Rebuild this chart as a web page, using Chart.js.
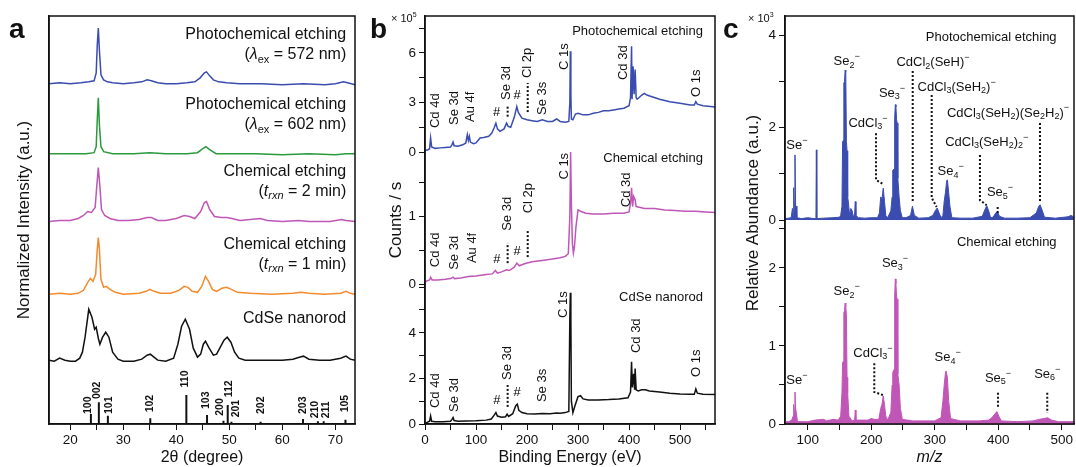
<!DOCTYPE html>
<html>
<head>
<meta charset="utf-8">
<script src="https://cdn.jsdelivr.net/npm/chart.js@4.4.1/dist/chart.umd.min.js"></script>
<style>
  html, body { margin: 0; padding: 0; background: #fff; }
  #wrap { position: relative; width: 1076px; height: 467px; overflow: hidden; }
  canvas { position: absolute; top: 0; }
</style>
</head>
<body>
<div id="wrap">
  <canvas id="chartA" width="362" height="467" style="left:0"></canvas>
  <canvas id="chartB" width="360" height="467" style="left:362px"></canvas>
  <canvas id="chartC" width="354" height="467" style="left:722px"></canvas>
</div>
<script>
var FONT = 'Arial, "Liberation Sans", Helvetica, sans-serif';
Chart.defaults.font.family = FONT;
Chart.defaults.color = '#111';

// ---------- panel a : XRD (2theta, intensity above own baseline) ----------
var xrdNames = ['Photochemical etching', 'Photochemical etching', 'Chemical etching', 'Chemical etching', 'CdSe nanorod'];
var xrdSubs = ['(%{λ}_{ex} = 572 nm)', '(%{λ}_{ex} = 602 nm)', '(%{t}${rxn} = 2 min)', '(%{t}${rxn} = 1 min)', ''];
var xrdOffsets = [340, 270, 203, 130, 62];
var xrdPhoto572 = [[16,1],[18,2],[20,1],[22,2],[23.5,3],[24.5,4],[24.9,12],[25.1,40],[25.3,57],[25.5,35],[25.8,10],[26.3,5],[27,3],[28,2],[30,1],[32,2],[33.5,3],[34.5,5],[35.3,4],[36.5,2],[38,1],[40,1],[42,2],[43.5,3],[44.5,7],[45.3,12],[45.7,13],[46.3,9],[47,5],[48,3],[49.5,2],[52,1],[56,1],[60,0],[64,1],[68,0],[70,1],[71.5,3],[72.3,2],[73.7,0]];
var xrdPhoto602 = [[16,1],[20,1],[23,1],[24.5,2],[24.9,8],[25.1,35],[25.3,57],[25.5,30],[25.8,8],[26.3,3],[28,1],[32,1],[35,2],[38,1],[42,1],[44,2],[45,6],[45.6,8],[46.3,5],[47.5,1],[50,1],[55,1],[60,0],[65,1],[70,0],[72,1],[73.7,1]];
var xrdChem2 = [[16,0],[18,1],[20,1],[21.5,3],[22.5,6],[23.3,10],[24,9],[24.7,14],[25,35],[25.3,54],[25.6,35],[25.9,12],[26.5,6],[27.5,3],[29,1],[31,1],[33,2],[34.5,4],[35.3,4],[36.5,1],[38,1],[40,3],[41.5,6],[42.5,5],[43.5,3],[44.6,10],[45.3,19],[45.7,20],[46.3,12],[47.2,5],[48.5,4],[49.5,4],[50.5,3],[52,1],[54,2],[55.8,3],[57.2,1],[60,0],[63,1],[65,0],[69,0],[71.2,2],[72,1],[73.7,0]];
var xrdChem1 = [[16,0],[18,1],[20,0],[21.5,1],[22.5,4],[23.3,12],[23.8,16],[24.3,13],[24.8,20],[25.1,45],[25.3,57],[25.5,45],[25.8,15],[26.3,7],[26.8,8],[27.5,5],[28.5,2],[30,0],[33,1],[34.3,3],[35,5],[35.8,3],[37,1],[39,1],[40.5,4],[41.5,8],[42.2,7],[43,3],[44,2],[44.8,8],[45.5,18],[46.1,13],[46.8,5],[47.6,3],[48.6,6],[49.5,7],[50.4,5],[51.5,2],[54,1],[58,0],[62,1],[63.5,2],[65,1],[68,0],[71,1],[72,3],[72.8,1],[73.7,0]];
var xrdRod = [[16,2],[17,1],[18,4],[19,2],[20,1],[21,1],[21.8,4],[22.3,10],[22.8,25],[23.5,53],[24.1,45],[24.6,33],[24.9,35],[25.3,24],[25.6,18],[26.1,25],[26.7,30],[27.3,25],[28,10],[29,3],[30,1],[32,1],[33.5,3],[34.5,7],[35.1,8],[35.8,5],[36.5,2],[38,1],[39.5,4],[40.3,18],[41,36],[41.7,43],[42.5,33],[43.2,14],[44,5],[44.6,8],[45.1,18],[45.5,21],[46.2,14],[47,7],[47.6,8],[48.3,15],[49,22],[49.6,25],[50.3,20],[51,10],[51.8,4],[53,2],[55,2],[57,2],[60,2],[62,3],[63.2,5],[64,6],[65,3],[67,2],[69,2],[71,4],[72,6],[72.8,3],[73.7,2]];
var xrdTicks = [20, 25, 30, 35, 40, 45, 50, 55, 60, 65, 70];
var hklLabels = ['100','002','101','102','110','103','200','112','201','202','203','210','211','105'];
var hklTheta = [23.9, 25.4, 27.1, 35.1, 41.9, 45.8, 48.9, 49.7, 50.4, 55.9, 63.9, 66.7, 67.8, 71.9];
var hklIntensity = [10, 21.7, 8.3, 5.7, 29, 9, 3.3, 19, 2.3, 2.3, 5, 2.7, 2.7, 4.3];
var hklLabelTheta = [23.34, 25.12, 27.27, 35.05, 41.69, 45.62, 48.33, 50.04, 51.37, 55.92, 63.83, 66.17, 68.25, 71.86];
var hklLabelBase = [10, 25, 10, 11.7, 36.7, 15, 8.3, 26.7, 6.7, 10, 10, 5.7, 5.7, 11.7];

// ---------- panel b : XPS (eV, counts x 1e5) ----------
var xpsPhoto = [[0,0.1],[5,0.12],[9,0.2],[11,0.85],[13,0.3],[20,0.22],[30,0.25],[40,0.28],[50,0.3],[53,0.45],[55,0.6],[57,0.38],[65,0.35],[75,0.45],[80,0.55],[83,1.05],[85,0.7],[87,0.95],[89,0.6],[95,0.5],[100,0.55],[108,0.85],[115,0.88],[125,0.95],[131,1.15],[136,1.5],[139,1.75],[142,1.4],[147,1.25],[155,1.4],[160,1.75],[163,1.55],[168,1.5],[175,2.1],[180,2.75],[183,2.4],[190,2.05],[200,1.95],[210,1.9],[220,1.85],[230,1.95],[240,1.85],[250,1.85],[258,2.0],[265,1.85],[275,1.8],[282,1.85],[284,3.0],[285,6.1],[286,3.5],[287,2.0],[290,1.95],[295,2.3],[300,2.35],[310,2.25],[320,2.25],[330,2.35],[340,2.4],[350,2.5],[360,2.5],[370,2.55],[380,2.6],[390,2.65],[400,2.8],[403,3.3],[405,6.4],[406,3.2],[408,5.2],[410,3.5],[412,5.0],[414,3.3],[416,3.2],[420,3.3],[425,3.45],[430,3.55],[435,3.45],[445,3.35],[460,3.2],[480,3.05],[500,2.95],[520,2.85],[528,2.85],[531,3.05],[534,2.9],[545,2.8],[560,2.75],[569,2.72]];
var xpsChem = [[0,0.03],[5,0.05],[9,0.06],[11,0.1],[14,0.06],[25,0.06],[40,0.07],[50,0.08],[55,0.1],[58,0.08],[70,0.09],[85,0.11],[100,0.12],[120,0.14],[132,0.15],[138,0.2],[142,0.16],[150,0.18],[160,0.21],[165,0.2],[175,0.25],[180,0.31],[185,0.27],[195,0.3],[210,0.33],[230,0.35],[250,0.37],[265,0.39],[275,0.41],[281,0.45],[284,1.0],[285.5,1.96],[287,1.2],[289,0.6],[291,0.46],[293,0.55],[296,0.85],[300,1.1],[305,1.08],[315,1.05],[330,1.04],[350,1.04],[370,1.05],[390,1.05],[400,1.07],[403,1.2],[405,1.43],[407,1.15],[409,1.3],[412,1.25],[414,1.15],[420,1.14],[430,1.12],[450,1.12],[470,1.1],[490,1.09],[510,1.08],[530,1.08],[550,1.07],[569,1.06]];
var xpsRod = [[0,0.02],[5,0.08],[9,0.12],[11,0.35],[13,0.12],[20,0.1],[35,0.1],[50,0.12],[53,0.2],[55,0.28],[57,0.15],[65,0.12],[80,0.13],[100,0.14],[120,0.17],[130,0.22],[136,0.4],[139,0.5],[142,0.35],[150,0.3],[158,0.32],[161,0.43],[164,0.33],[172,0.45],[178,0.8],[181,0.87],[184,0.6],[190,0.5],[200,0.45],[215,0.44],[230,0.46],[245,0.45],[258,0.48],[265,0.47],[275,0.5],[282,0.55],[284,4.67],[285,5.76],[286,4.6],[287,1.0],[290,0.5],[294,0.8],[300,1.2],[305,1.24],[310,1.1],[320,1.05],[340,1.05],[360,1.07],[380,1.1],[398,1.15],[403,1.4],[405,2.73],[406.5,1.6],[409,2.2],[411,1.5],[412,2.43],[414,1.5],[418,1.45],[425,1.5],[432,1.5],[440,1.45],[460,1.4],[480,1.35],[500,1.32],[520,1.3],[528,1.3],[531,1.54],[534,1.35],[545,1.3],[569,1.29]];
var xpsTicksX = [0, 50, 100, 150, 200, 250, 300, 350, 400, 450, 500, 550];
// [axis, text, eV, value at text start]
var xpsLabels = [
  ['yT','Cd 4d',19.6,1.45],['yT','Se 3d',57.5,1.64],['yT','Au 4f',90,1.82],['yT','Se 3d',160,3.15],['yT','Cl 2p',200,4.48],
  ['yT','Se 3s',231,2.24],['yT','C 1s',272.5,4.97],['yT','Cd 3d',389,4.36],['yT','O 1s',532.7,3.33],
  ['yM','Cd 4d',19.6,0.25],['yM','Se 3d',56.9,0.21],['yM','Au 4f',92,0.31],['yM','Se 3d',160.8,0.79],['yM','Cl 2p',202,1.05],
  ['yM','C 1s',272.5,1.55],['yM','Cd 3d',395.5,1.14],
  ['yB','Cd 4d',19.6,0.7],['yB','Se 3d',57,0.53],['yB','Se 3d',161,1.93],['yB','Se 3s',230.8,0.96],['yB','C 1s',270.6,4.65],
  ['yB','Cd 3d',413.7,3.11],['yB','O 1s',533,2.06]
];
var xpsHash = [['yT',140.6,2.42],['yT',180.4,3.45],['yM',141,0.36],['yM',180.4,0.49],['yB',141,1.05],['yB',180.4,1.4]];
var xpsDots = [['yT',162,2.14,2.75],['yT',201.4,2.42,4.18],['yM',162,0.31,0.61],['yM',201.4,0.4,0.8],['yB',162,0.75,1.71]];

// ---------- panel c : mass spectra (m/z, abundance x 1e3) ----------
var msPhoto = [[64,0.03],[70,0.04],[74,0.05],[76,0.25],[77,0.1],[78,0.7],[79,0.2],[80,1.41],[81,0.3],[82,0.3],[83,0.05],[90,0.03],[100,0.05],[110,0.03],[113,0.03],[113.7,1.52],[114.4,0.03],[125,0.04],[140,0.05],[150,0.06],[152,0.1],[154,0.3],[155,1.7],[156,1.72],[157,2.97],[158,3.0],[159,3.25],[160,3.2],[161,1.7],[162,1.5],[163,0.5],[164,0.4],[166,0.1],[168,0.25],[170,0.2],[172,0.05],[174,0.15],[175,0.4],[176,0.1],[180,0.05],[190,0.04],[200,0.05],[210,0.05],[213,0.15],[215,0.5],[217,0.45],[219,0.69],[221,0.4],[223,0.1],[226,0.05],[231,0.2],[233,0.5],[234,1.08],[236,1.1],[237,2.2],[238,2.5],[239,2.45],[240,2.17],[241,2.1],[242,0.9],[244,0.5],[246,0.2],[249,0.05],[255,0.05],[262,0.1],[265,0.3],[268,0.1],[275,0.04],[290,0.05],[297,0.1],[301,0.2],[304,0.26],[307,0.15],[310,0.05],[313,0.1],[315,0.4],[317,0.6],[319,0.85],[320,0.87],[322,0.6],[324,0.3],[327,0.05],[340,0.04],[360,0.04],[375,0.08],[379,0.22],[382,0.31],[385,0.2],[388,0.05],[392,0.06],[396,0.15],[399,0.18],[402,0.08],[410,0.04],[430,0.04],[450,0.05],[460,0.15],[464,0.3],[466,0.33],[469,0.22],[473,0.06],[490,0.04],[510,0.07],[515,0.1],[520,0.06]];
var msChem = [[64,0.03],[70,0.03],[75,0.05],[77,0.1],[78,0.25],[79,0.15],[80,0.41],[81,0.2],[82,0.15],[84,0.03],[100,0.03],[112,0.05],[125,0.06],[130,0.04],[140,0.06],[148,0.05],[152,0.1],[154,0.4],[155,0.79],[156,0.8],[157,1.43],[158,1.45],[159,1.55],[160,1.5],[161,1.4],[162,0.6],[163,0.4],[165,0.1],[170,0.04],[174,0.05],[175,0.18],[176,0.05],[185,0.05],[195,0.05],[200,0.07],[205,0.06],[212,0.06],[215,0.2],[217,0.25],[219,0.36],[221,0.25],[223,0.1],[226,0.05],[231,0.15],[233,0.5],[234,0.66],[236,0.7],[237,1.64],[238,1.86],[239,1.8],[240,1.64],[241,1.6],[242,0.64],[244,0.5],[246,0.2],[249,0.06],[265,0.04],[280,0.04],[300,0.04],[310,0.08],[313,0.3],[315,0.5],[317,0.66],[318,0.68],[320,0.6],[322,0.3],[325,0.07],[340,0.04],[370,0.04],[385,0.05],[390,0.08],[395,0.13],[398,0.16],[401,0.1],[405,0.04],[430,0.03],[455,0.04],[465,0.06],[472,0.07],[478,0.08],[484,0.05],[495,0.03],[520,0.03]];
var msTicksX = [100, 150, 200, 250, 300, 350, 400, 450, 500];
// [axis, text, m/z centre, value]
var msLabels = [
  ['yT','Se^{−}',83.1,1.62],['yT','Se_{2}^{−}',161.4,3.43],['yT','Se_{3}^{−}',232.8,2.75],['yT','CdCl_{3}^{−}',195,2.1],
  ['yT','CdCl_{2}(SeH)^{−}',297.3,3.42],['yT','CdCl_{3}(SeH_{2})^{−}',334.6,2.88],['yT','CdCl_{3}(SeH_{2})(Se_{2}H_{2})^{−}',415.4,2.32],
  ['yT','CdCl_{3}(SeH_{2})_{2}^{−}',381.9,1.69],['yT','Se_{4}^{−}',325.2,1.05],['yT','Se_{5}^{−}',402.8,0.59],
  ['yB','Se_{3}^{−}',237.5,2.06],['yB','Se_{2}^{−}',161.4,1.7],['yB','CdCl_{3}^{−}',202.8,0.91],['yB','Se^{−}',83.1,0.56],
  ['yB','Se_{4}^{−}',320.5,0.85],['yB','Se_{5}^{−}',399.7,0.59],['yB','Se_{6}^{−}',477.3,0.64]
];
var msDots = [
  ['yT',[[207.6,1.88],[207.6,0.87],[218.6,0.78]]],['yT',[[265.4,3.23],[265.4,0.39]]],['yT',[[295.3,2.71],[295.3,0.48],[303.1,0.28]]],
  ['yT',[[465.8,2.1],[465.8,0.39]]],['yT',[[371.3,1.41],[371.3,0.43],[381.9,0.32]]],['yT',[[399.2,0.28],[399.2,0.15]]],
  ['yB',[[204.9,0.78],[204.9,0.41],[219,0.37]]],['yB',[[399.7,0.4],[399.7,0.22]]],['yB',[[477.3,0.4],[477.3,0.14]]]
];

var BLUE = '#3a4cb0', GREEN = '#2a9a3c', PINK = '#c056b6', ORANGE = '#f58a2c', BLACK = '#111111';

// ---------- helpers ----------
function pts(pairs, off) {
  return pairs.map(function (p) { return { x: p[0], y: p[1] + (off || 0) }; });
}
function fontFor(k, size) {
  var small = (k === '_' || k === '^' || k === '$');
  var it = (k === '%' || k === '$');
  return (it ? 'italic ' : '') + (small ? Math.round(size * 0.68) : size) + 'px ' + FONT;
}
function rich(ctx, str, x, y, size, align) {
  var re = /([_^%$])\{([^}]*)\}|([^_^%$]+)/g, m, parts = [], w = 0;
  while ((m = re.exec(str))) parts.push(m[3] !== undefined ? { k: '', t: m[3] } : { k: m[1], t: m[2] });
  parts.forEach(function (p) { ctx.font = fontFor(p.k, size); p.w = ctx.measureText(p.t).width; w += p.w; });
  var sx = align === 'right' ? x - w : (align === 'center' ? x - w / 2 : x);
  ctx.textAlign = 'left';
  ctx.textBaseline = 'middle';
  ctx.fillStyle = '#111';
  parts.forEach(function (p) {
    var dy = (p.k === '_' || p.k === '$') ? size * 0.3 : (p.k === '^' ? -size * 0.38 : 0);
    ctx.font = fontFor(p.k, size);
    ctx.fillText(p.t, sx, y + dy);
    sx += p.w;
  });
}
function vtext(ctx, text, x, y, size, bold) {
  ctx.save();
  ctx.translate(x, y);
  ctx.rotate(-Math.PI / 2);
  ctx.font = (bold ? 'bold ' : '') + size + 'px ' + FONT;
  ctx.fillStyle = '#111';
  ctx.textAlign = 'left';
  ctx.textBaseline = 'middle';
  ctx.fillText(text, 0, 0);
  ctx.restore();
}
function vtitle(ctx, text, x, y, size) {
  ctx.save();
  ctx.translate(x, y);
  ctx.rotate(-Math.PI / 2);
  ctx.font = size + 'px ' + FONT;
  ctx.fillStyle = '#111';
  ctx.textAlign = 'center';
  ctx.textBaseline = 'middle';
  ctx.fillText(text, 0, 0);
  ctx.restore();
}
function dotted(ctx, list) {
  ctx.save();
  ctx.strokeStyle = '#111';
  ctx.lineWidth = 2;
  ctx.setLineDash([2, 2]);
  ctx.beginPath();
  list.forEach(function (p, i) { if (i) ctx.lineTo(p[0], p[1]); else ctx.moveTo(p[0], p[1]); });
  ctx.stroke();
  ctx.restore();
}
function frame(chart) {
  var a = chart.chartArea, ctx = chart.ctx;
  ctx.save();
  ctx.strokeStyle = '#111';
  ctx.lineWidth = 1.5;
  ctx.strokeRect(a.left, a.top, a.right - a.left, a.bottom - a.top);
  ctx.restore();
}
function letter(ctx, t, x, y) {
  ctx.font = 'bold 28px ' + FONT;
  ctx.fillStyle = '#111';
  ctx.textAlign = 'left';
  ctx.textBaseline = 'alphabetic';
  ctx.fillText(t, x, y);
}
function line(data, color, axis, width) {
  return { data: data, borderColor: color, borderWidth: width || 1.5, pointRadius: 0, tension: 0, fill: false, yAxisID: axis || 'y', clip: false };
}
function fixedTicks(vals) {
  return function (s) { s.ticks = vals.map(function (v) { return { value: v }; }); };
}
function xAxis(min, max, vals, every, title, italic) {
  return {
    type: 'linear', min: min, max: max,
    afterBuildTicks: fixedTicks(vals),
    ticks: { autoSkip: false, maxRotation: 0, padding: 2, font: { size: 13.5 }, color: '#111',
             callback: function (v) { return v % every === 0 ? String(v) : ''; } },
    grid: { drawOnChartArea: false, tickLength: 6, color: '#111' },
    border: { color: '#111', width: 1.5 },
    title: { display: true, text: title, font: { size: 16, style: italic ? 'italic' : 'normal' }, color: '#111', padding: { top: 0, bottom: 0 } },
    afterFit: function (s) { s.height = 43; }
  };
}
function yStack(max, vals, labels, weight, width) {
  return {
    type: 'linear', position: 'left', stack: 'st', stackWeight: weight, min: 0, max: max,
    afterBuildTicks: fixedTicks(vals),
    ticks: { autoSkip: false, padding: 3, font: { size: 13.5 }, color: '#111',
             callback: function (v) { return labels.indexOf(v) >= 0 ? String(v) : ''; } },
    grid: { drawOnChartArea: false, tickLength: 6, color: '#111' },
    border: { color: '#111', width: 1.5 },
    afterFit: function (s) { s.width = width; }
  };
}
var common = { responsive: false, animation: false, devicePixelRatio: 1, events: [],
               plugins: { legend: { display: false }, tooltip: { enabled: false } } };

// ---------- chart a ----------
var sticks = [];
hklTheta.forEach(function (t, i) { sticks.push({ x: t, y: 0 }, { x: t, y: hklIntensity[i] }, { x: t, y: null }); });
var xrdSets = [xrdPhoto572, xrdPhoto602, xrdChem2, xrdChem1, xrdRod];
var xrdColors = [BLUE, GREEN, PINK, ORANGE, BLACK];
new Chart(document.getElementById('chartA'), {
  type: 'line',
  data: {
    datasets: xrdSets.map(function (s, i) { return line(pts(s, xrdOffsets[i]), xrdColors[i]); })
      .concat([Object.assign(line(sticks, BLACK, 'y', 2), { spanGaps: false })])
  },
  options: Object.assign({}, common, {
    layout: { padding: { top: 16, right: 7, left: 0, bottom: 0 } },
    scales: {
      x: xAxis(16, 73.7, xrdTicks, 10, '2θ (degree)'),
      y: { min: 0, max: 409, ticks: { display: false }, grid: { display: false },
           border: { color: '#111', width: 1.5 },
           title: { display: true, text: 'Normalized Intensity (a.u.)', font: { size: 17 }, color: '#111', padding: { top: 14, bottom: 0 } },
           afterFit: function (s) { s.width = 49; } }
    }
  }),
  plugins: [{
    id: 'decoA',
    afterDraw: function (chart) {
      var ctx = chart.ctx, x = chart.scales.x, y = chart.scales.y;
      frame(chart);
      xrdNames.forEach(function (n, i) {
        var xr = x.getPixelForValue(72.05);
        if (xrdSubs[i]) {
          rich(ctx, n, xr, y.getPixelForValue(xrdOffsets[i] + 50), 16, 'right');
          rich(ctx, xrdSubs[i], xr, y.getPixelForValue(xrdOffsets[i] + 30), 16, 'right');
        } else {
          rich(ctx, n, xr, y.getPixelForValue(xrdOffsets[i] + 44), 16, 'right');
        }
      });
      hklLabels.forEach(function (t, i) {
        vtext(ctx, t, x.getPixelForValue(hklLabelTheta[i]), y.getPixelForValue(hklLabelBase[i]), 10.5, true);
      });
      letter(ctx, 'a', 9, 38);
    }
  }]
});

// ---------- chart b ----------
new Chart(document.getElementById('chartB'), {
  type: 'line',
  data: {
    datasets: [line(pts(xpsRod), BLACK, 'yB'), line(pts(xpsChem), PINK, 'yM'), line(pts(xpsPhoto), BLUE, 'yT')]
  },
  options: Object.assign({}, common, {
    layout: { padding: { top: 16, right: 7, left: 0, bottom: 0 } },
    scales: {
      x: xAxis(0, 568.6, xpsTicksX, 100, 'Binding Energy (eV)'),
      yB: yStack(6.14, [0, 1, 2, 3, 4, 5, 6], [0, 2, 4], 140, 63),
      yM: yStack(1.96, [0, 0.5, 1, 1.5], [0, 1], 132, 63),
      yT: yStack(8.24, [0, 1.5, 3, 4.5, 6, 7.5], [0, 3, 6], 136, 63)
    }
  }),
  plugins: [{
    id: 'decoB',
    afterDraw: function (chart) {
      var ctx = chart.ctx, x = chart.scales.x, sc = chart.scales;
      frame(chart);
      xpsLabels.forEach(function (l) {
        vtext(ctx, l[1], x.getPixelForValue(l[2]), sc[l[0]].getPixelForValue(l[3]), 13, false);
      });
      ctx.font = '13px ' + FONT;
      ctx.textAlign = 'center';
      ctx.textBaseline = 'middle';
      xpsHash.forEach(function (h) {
        ctx.fillText('#', x.getPixelForValue(h[1]), sc[h[0]].getPixelForValue(h[2]));
      });
      xpsDots.forEach(function (d) {
        var px = x.getPixelForValue(d[1]);
        dotted(ctx, [[px, sc[d[0]].getPixelForValue(d[2])], [px, sc[d[0]].getPixelForValue(d[3])]]);
      });
      var xr = x.getPixelForValue(545);
      rich(ctx, 'Photochemical etching', xr, sc.yT.getPixelForValue(7.33), 13, 'right');
      rich(ctx, 'Chemical etching', xr, sc.yM.getPixelForValue(1.87), 13, 'right');
      rich(ctx, 'CdSe nanorod', xr, sc.yB.getPixelForValue(5.53), 13, 'right');
      vtitle(ctx, 'Counts / s', 34, 220, 17);
      rich(ctx, '× 10^{5}', 29, 19, 11, 'left');
      letter(ctx, 'b', 8, 38);
    }
  }]
});

// ---------- chart c ----------
function areaSet(d, color, axis) {
  return Object.assign(line(d, color, axis, 1), { fill: 'origin', backgroundColor: color });
}
new Chart(document.getElementById('chartC'), {
  type: 'line',
  data: { datasets: [areaSet(pts(msChem), PINK, 'yB'), areaSet(pts(msPhoto), BLUE, 'yT')] },
  options: Object.assign({}, common, {
    layout: { padding: { top: 16, right: 2, left: 0, bottom: 0 } },
    scales: {
      x: xAxis(64.3, 519.4, msTicksX, 100, 'm/z', true),
      yB: yStack(2.615, [0, 0.5, 1, 1.5, 2, 2.5], [0, 1, 2], 204, 63),
      yT: yStack(4.42, [0, 1, 2, 3, 4], [0, 2, 4], 204, 63)
    }
  }),
  plugins: [{
    id: 'decoC',
    afterDraw: function (chart) {
      var ctx = chart.ctx, x = chart.scales.x, sc = chart.scales;
      frame(chart);
      msDots.forEach(function (d) {
        dotted(ctx, d[1].map(function (p) { return [x.getPixelForValue(p[0]), sc[d[0]].getPixelForValue(p[1])]; }));
      });
      msLabels.forEach(function (l) {
        rich(ctx, l[1], x.getPixelForValue(l[2]), sc[l[0]].getPixelForValue(l[3]), 13, 'center');
      });
      var xr = x.getPixelForValue(492);
      rich(ctx, 'Photochemical etching', xr, sc.yT.getPixelForValue(3.96), 13, 'right');
      rich(ctx, 'Chemical etching', xr, sc.yB.getPixelForValue(2.33), 13, 'right');
      vtitle(ctx, 'Relative Abundance (a.u.)', 31, 213, 17);
      rich(ctx, '× 10^{3}', 26, 19, 11, 'left');
      letter(ctx, 'c', 1, 38);
    }
  }]
});
</script>
</body>
</html>
